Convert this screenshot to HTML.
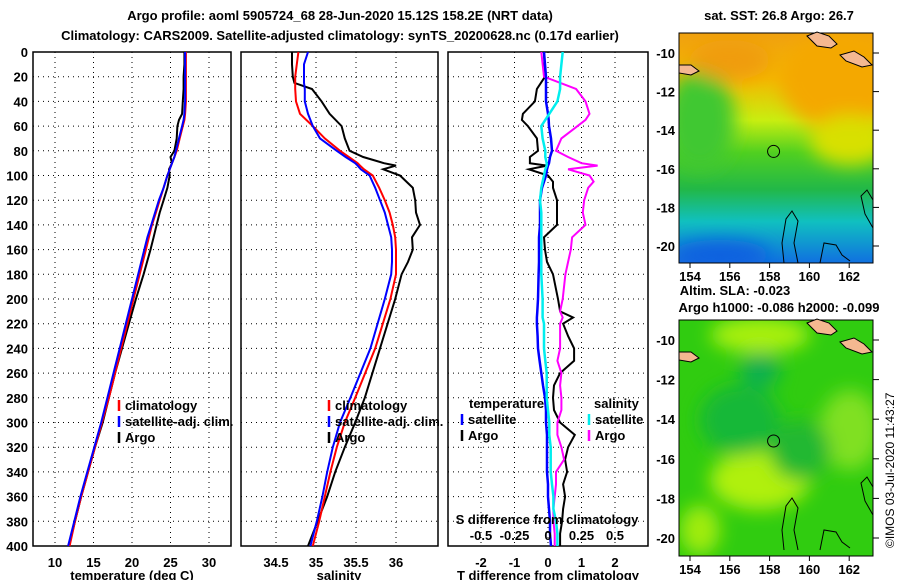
<!DOCTYPE html>
<html><head><meta charset="utf-8"><style>
body{margin:0;background:#fff}
svg text{font-family:"Liberation Sans",sans-serif;font-weight:bold;font-size:13px;fill:#000}
</style></head><body>
<svg id="c" width="900" height="580" xmlns="http://www.w3.org/2000/svg">
<defs>
<linearGradient id="sst" x1="0" y1="0" x2="0" y2="1">
<stop offset="0" stop-color="#f0a010"/><stop offset="0.2" stop-color="#f4b800"/><stop offset="0.38" stop-color="#c8ee10"/><stop offset="0.52" stop-color="#50d020"/><stop offset="0.68" stop-color="#22b848"/><stop offset="0.82" stop-color="#10c0c0"/><stop offset="1" stop-color="#1070e0"/>
</linearGradient>
<clipPath id="m1"><rect x="679" y="33" width="194" height="230"/></clipPath>
<clipPath id="m2"><rect x="679" y="320" width="194" height="236"/></clipPath>
<filter id="bl"><feGaussianBlur stdDeviation="9"/></filter>
</defs>
<text x="340" y="20" text-anchor="middle">Argo profile: aoml 5905724_68 28-Jun-2020 15.12S 158.2E (NRT data)</text>
<text x="340" y="40" text-anchor="middle">Climatology: CARS2009. Satellite-adjusted climatology: synTS_20200628.nc (0.17d earlier)</text>
<g id="axes"></g>
<g id="maps">
<g clip-path="url(#m1)">
<rect x="679" y="33" width="194" height="230" fill="url(#sst)"/>
<g filter="url(#bl)">
<ellipse cx="700" cy="120" rx="35" ry="50" fill="#40c830"/>
<ellipse cx="840" cy="80" rx="60" ry="50" fill="#f4a800"/>
<ellipse cx="730" cy="60" rx="40" ry="20" fill="#f09c10"/>
<ellipse cx="850" cy="140" rx="40" ry="25" fill="#d8e000"/>
<ellipse cx="720" cy="255" rx="50" ry="15" fill="#1060e0"/>
</g>
</g>
<rect x="679" y="33" width="194" height="230" fill="none" stroke="#000"/>
<g clip-path="url(#m2)">
<rect x="679" y="320" width="194" height="236" fill="#30cc10"/>
<g filter="url(#bl)">
<ellipse cx="760" cy="335" rx="50" ry="18" fill="#a8f010"/>
<ellipse cx="850" cy="430" rx="30" ry="40" fill="#80e020"/>
<ellipse cx="760" cy="480" rx="50" ry="30" fill="#b0f010"/>
<ellipse cx="700" cy="530" rx="20" ry="25" fill="#a0ec10"/>
<ellipse cx="740" cy="420" rx="40" ry="35" fill="#18b838"/>
<ellipse cx="800" cy="450" rx="30" ry="30" fill="#20b830"/>
<ellipse cx="760" cy="370" rx="20" ry="18" fill="#10b050"/>
</g>
</g>
<rect x="679" y="320" width="194" height="236" fill="none" stroke="#000"/>
</g>
<text x="779" y="20" text-anchor="middle">sat. SST: 26.8 Argo: 26.7</text>
<text x="735" y="295" text-anchor="middle">Altim. SLA: -0.023</text>
<text x="779" y="312" text-anchor="middle">Argo h1000: -0.086 h2000: -0.099</text>
<text transform="translate(894,548) rotate(-90)" style="font-weight:normal;font-size:12px">©IMOS 03-Jul-2020 11:43:27</text>
</svg>
<script>
const depthTicks=[0,20,40,60,80,100,120,140,160,180,200,220,240,260,280,300,320,340,360,380,400];
const tTicks=[10,15,20,25,30];
const sTicks=[34.5,35,35.5,36];
const dTTicks=[-2,-1,0,1,2];
const dSTicks=[-0.5,-0.25,0,0.25,0.5];
const dSLabels=['-0.5','-0.25','0','0.25','0.5'];
const latTicks=[-10,-12,-14,-16,-18,-20];
const lonTicks=[154,156,158,160,162];

const tDepth=[0,10,20,30,40,50,55,60,70,80,85,90,95,100,110,120,130,140,150,160,180,200,220,240,260,280,300,320,340,360,380,400];
const tArgo=[26.8,26.8,26.7,26.7,26.6,26.5,26.1,25.9,25.8,25.5,25.0,25.2,24.8,24.9,24.6,24.1,23.6,23.2,22.8,22.4,21.5,20.5,19.6,18.7,17.8,17.0,16.2,15.2,14.3,13.4,12.6,11.8];
const tClim=[27.0,27.0,27.0,27.0,27.0,26.9,26.8,26.6,26.2,25.8,25.5,25.2,24.9,24.6,24.1,23.6,23.1,22.6,22.2,21.8,21.0,20.2,19.4,18.6,17.8,17.0,16.1,15.2,14.3,13.4,12.6,11.9];
const tSat=[26.9,26.9,26.9,26.9,26.9,26.8,26.7,26.5,26.1,25.7,25.5,25.2,24.9,24.6,24.1,23.5,23.0,22.5,22.0,21.6,20.8,20.0,19.2,18.4,17.6,16.8,16.0,15.1,14.2,13.3,12.5,11.7];

const sDepth=[0,10,20,25,30,40,50,60,70,80,85,90,92,95,100,110,120,130,140,150,160,170,180,200,240,280,300,320,340,360,380,400];
const sArgo=[34.70,34.70,34.71,34.73,34.95,35.07,35.17,35.32,35.36,35.42,35.59,35.85,36.0,35.84,36.05,36.21,36.24,36.25,36.30,36.20,36.21,36.15,36.07,35.99,35.80,35.61,35.49,35.36,35.24,35.14,35.02,34.90];
const sClim=[34.78,34.76,34.74,34.74,34.74,34.75,34.80,34.96,35.11,35.30,35.41,35.52,35.55,35.60,35.71,35.79,35.86,35.92,35.96,35.99,36.00,36.00,36.00,35.93,35.74,35.49,35.36,35.26,35.18,35.11,35.04,34.96];
const sSat=[34.90,34.85,34.85,34.85,34.86,34.86,34.90,34.96,35.05,35.26,35.37,35.49,35.52,35.56,35.67,35.74,35.80,35.86,35.90,35.94,35.95,35.95,35.94,35.86,35.68,35.43,35.30,35.21,35.14,35.08,35.01,34.93];

const dDepth=[0,20,30,40,50,55,60,70,80,85,90,92,95,100,105,110,120,130,140,150,160,170,180,200,210,215,220,230,240,250,260,270,280,290,300,310,320,330,340,350,360,370,380,390,400];
const dTArgo=[-0.12,-0.09,-0.33,-0.39,-0.75,-0.78,-0.6,-0.33,-0.3,-0.54,-0.54,-0.03,-0.57,0,0.15,0.15,0.27,0.27,0.27,-0.12,-0.09,-0.03,0.15,0.3,0.36,0.75,0.45,0.6,0.78,0.78,0.36,0.18,0.15,0.18,0.36,0.8,0.6,0.51,0.57,0.45,0.51,0.45,0.42,0.36,0.36];
const dTSat=[-0.12,-0.06,-0.06,-0.06,0,0.02,0.03,0.09,0.12,0.06,0.03,0,-0.03,-0.06,-0.12,-0.18,-0.24,-0.24,-0.24,-0.27,-0.27,-0.27,-0.28,-0.3,-0.32,-0.33,-0.33,-0.31,-0.3,-0.25,-0.2,-0.15,-0.09,-0.06,-0.06,-0.03,-0.03,-0.03,-0.03,0,0,0.03,0.06,0.06,0.09];
const dSSat=[0.11,0.09,0.09,0.07,0.01,-0.02,-0.05,-0.04,-0.02,-0.02,-0.01,-0.01,-0.02,-0.03,-0.04,-0.05,-0.06,-0.05,-0.05,-0.05,-0.05,-0.05,-0.05,-0.04,-0.04,-0.04,-0.03,-0.03,-0.03,-0.02,-0.01,-0.01,-0.01,0,0.01,0.01,0.02,0.02,0.02,0.03,0.04,0.04,0.06,0.07,0.07];
const dSArgo=[-0.05,-0.03,0.21,0.28,0.31,0.28,0.22,0.10,0.06,0.15,0.25,0.37,0.15,0.31,0.34,0.30,0.27,0.26,0.28,0.18,0.17,0.15,0.13,0.11,0.09,0.11,0.09,0.09,0.09,0.07,0.10,0.09,0.10,0.10,0.07,0.07,0.10,0.12,0.06,0.06,0.05,0.04,0.04,0.05,0.05];

const NS='http://www.w3.org/2000/svg';
const svg=document.getElementById('c');
const G=document.getElementById('axes');
function el(t,a,p){const e=document.createElementNS(NS,t);for(const k in a)e.setAttribute(k,a[k]);(p||G).appendChild(e);return e;}
const Y0=52,Y1=546;
const yD=d=>Y0+d*(Y1-Y0)/400;
const xT=v=>55+(v-10)*7.7;
const xS=v=>276+(v-34.5)*80;
const xDT=v=>548+v*33.5;
const xDS=v=>548+v*134;
const panels=[[33,231],[241,438],[448,648]];

function panel(i,xs,ticks,fmt,fn,name){
  const [a,b]=panels[i];
  const gp=el('g',{});
  
  
  depthTicks.forEach(d=>{if(d>0&&d<400){const l=el('line',{x1:a,x2:b,y1:yD(d),y2:yD(d),stroke:'#000','stroke-dasharray':'1,4'},gp);}});
  ticks.forEach((v,k)=>{const x=fn(v);const l=el('line',{x1:x,x2:x,y1:Y0,y2:Y1,stroke:'#000','stroke-dasharray':'1,4'},gp);
    if(fmt){const t=el('text',{x:x,y:567,'text-anchor':'middle'},gp);t.textContent=fmt[k];}});
  const r=el('rect',{x:a,y:Y0,width:b-a,height:Y1-Y0,fill:'none',stroke:'#000','stroke-width':1.5},gp);
  
  
  return gp;
}
function line(gp,xs,ys,fx,col,w,name){
  const d=xs.map((v,k)=>(k?'L':'M')+fx(v).toFixed(1)+','+yD(ys[k]).toFixed(1)).join('');
  const p=el('path',{d:d,fill:'none',stroke:col,'stroke-width':w},gp);
  
  
}
function txt(gp,x,y,s,name,anchor){const t=el('text',{x:x,y:y,'text-anchor':anchor||'start'},gp);t.textContent=s;return t;}
function leg(gp,x,y,col,s,name){const l=el('line',{x1:x,x2:x,y1:y-10,y2:y+1,stroke:col,'stroke-width':2.5},gp);txt(gp,x+6,y,s,name);}

// y tick labels
depthTicks.forEach(d=>{const t=el('text',{x:28,y:yD(d)+5,'text-anchor':'end'});t.textContent=d;});

const p1=panel(0,null,tTicks,tTicks.map(String),xT,'temperature-panel');
line(p1,tArgo,tDepth,xT,'#000',2,'temperature-argo-line');
line(p1,tClim,tDepth,xT,'#f00',2,'temperature-climatology-line');
line(p1,tSat,tDepth,xT,'#00f',2,'temperature-satellite-line');
leg(p1,119,410,'#f00','climatology','legend-climatology');
leg(p1,119,426,'#00f','satellite-adj. clim.','legend-satellite');
leg(p1,119,442,'#000','Argo','legend-argo');
txt(p1,132,580,'temperature (deg C)','temperature-axis-title','middle');

const p2=panel(1,null,sTicks,['34.5','35','35.5','36'],xS,'salinity-panel');
line(p2,sArgo,sDepth,xS,'#000',2,'salinity-argo-line');
line(p2,sClim,sDepth,xS,'#f00',2,'salinity-climatology-line');
line(p2,sSat,sDepth,xS,'#00f',2,'salinity-satellite-line');
leg(p2,329,410,'#f00','climatology','legend-climatology');
leg(p2,329,426,'#00f','satellite-adj. clim.','legend-satellite');
leg(p2,329,442,'#000','Argo','legend-argo');
txt(p2,339,580,'salinity','salinity-axis-title','middle');

const p3=panel(2,null,dTTicks,['-2','-1','0','1','2'],xDT,'difference-panel');
line(p3,dTArgo,dDepth,xDT,'#000',2,'t-diff-argo-line');
line(p3,dSArgo,dDepth,xDS,'#f0f',2,'s-diff-argo-line');
line(p3,dTSat,dDepth,xDT,'#00f',2.5,'t-diff-satellite-line');
line(p3,dSSat,dDepth,xDS,'#0ee',2.5,'s-diff-satellite-line');
txt(p3,469,408,'temperature','legend-temperature-header');
leg(p3,462,424,'#00f','satellite','legend-t-satellite');
leg(p3,462,440,'#000','Argo','legend-t-argo');
txt(p3,594,408,'salinity','legend-salinity-header');
leg(p3,589,424,'#0ee','satellite','legend-s-satellite');
leg(p3,589,440,'#f0f','Argo','legend-s-argo');
txt(p3,547,524,'S difference from climatology','s-diff-axis-title','middle');
dSTicks.forEach((v,k)=>txt(p3,xDS(v),540,dSLabels[k],'s-diff-tick-label','middle'));
txt(p3,548,580,'T difference from climatology','t-diff-axis-title','middle');

// maps
const M=document.getElementById('maps');
const lonX=v=>690+(v-154)*19.9;
function mapAxes(top,bottom,latAt){
  latTicks.forEach(v=>{const y=latAt(v);
    const l=el('line',{x1:873,x2:879,y1:y,y2:y,stroke:'#000'},M);
    const t=el('text',{x:675,y:y+5,'text-anchor':'end'},M);t.textContent=v;});
  lonTicks.forEach(v=>{const x=lonX(v);
    const l=el('line',{x1:x,x2:x,y1:bottom,y2:bottom+5,stroke:'#000'},M);
    const t=el('text',{x:x,y:bottom+18,'text-anchor':'middle'},M);t.textContent=v;});
  const o=top-33;
  const isl=[
    'M807,'+(36+o)+' l10,-4 l12,4 l8,8 l-6,4 l-14,-2 z',
    'M840,'+(55+o)+' l14,-4 l10,6 l8,8 l-10,2 l-16,-6 z',
    'M679,'+(65+o)+' l12,0 l8,6 l-8,4 l-12,-2 z'];
  isl.forEach(d=>{const p=el('path',{d:d,fill:'#f4b890',stroke:'#000'},M);});
  const coast=['M784,'+(263+o)+' l-2,-20 l4,-24 l6,-8 l6,10 l-4,22 l4,20','M820,'+(263+o)+' l4,-20 l12,2 l6,10 l8,6','M873,'+(200+o)+' l-6,-10 l-6,6 l4,18 l8,14'];
  coast.forEach(d=>{const p=el('path',{d:d,fill:'none',stroke:'#000'},M);});
  const c=el('circle',{cx:lonX(158.2),cy:latAt(-15.1),r:6,fill:'none',stroke:'#000'},M);
  
  
}
mapAxes(33,263,v=>53+(-10-v)*19.3);
mapAxes(320,556,v=>340+(-10-v)*19.8);
</script>
</body></html>
